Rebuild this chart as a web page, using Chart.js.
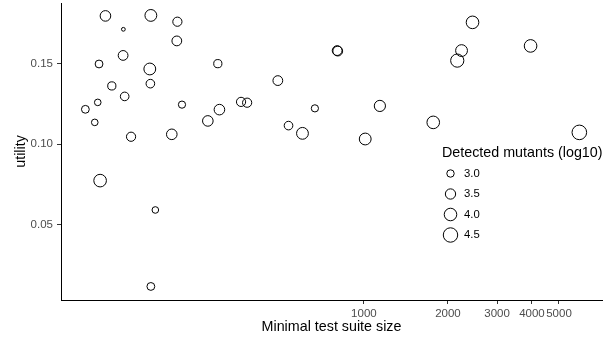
<!DOCTYPE html>
<html>
<head>
<meta charset="utf-8">
<script src="https://cdn.jsdelivr.net/npm/chart.js@4/dist/chart.umd.min.js"></script>
<style>
  html, body { margin: 0; padding: 0; background: #fff; }
  #wrap { width: 613px; height: 339px; position: relative; }
</style>
</head>
<body>
<div id="wrap"><canvas id="c"></canvas></div>
<script>
// bubble scatter: minimal test suite size (log x) vs utility, circle area ~ detected mutants (log10)

var suiteSize = [118.6, 137.5, 172.5, 214.7, 213.7, 137.2, 112.5, 171, 299.7, 125,
                 171.8, 491.7, 139, 100.5, 111.3, 223, 363, 381.7, 303.7, 276,
                 108.6, 537, 146.5, 205, 602.5, 113.5, 179, 172.5, 802, 806,
                 2450, 2238, 2160, 3955, 667.5, 1141, 1772, 1011, 5913];
var utility = [0.1796, 0.1713, 0.1799, 0.1760, 0.1641, 0.1551, 0.1498, 0.1467, 0.1500, 0.1362,
               0.1376, 0.1395, 0.1297, 0.1217, 0.1260, 0.1246, 0.1263, 0.1258, 0.1215, 0.1145,
               0.1136, 0.1116, 0.1047, 0.1062, 0.1068, 0.0775, 0.0593, 0.0119, 0.1581, 0.1578,
               0.1756, 0.1581, 0.1519, 0.1610, 0.1223, 0.1238, 0.1136, 0.1033, 0.1074];
var mutantsLog = [3.56, 2.60, 3.83, 3.29, 3.40, 3.40, 3.06, 3.83, 3.12, 3.12,
                  3.19, 3.40, 3.19, 3.06, 2.89, 2.97, 3.29, 3.29, 3.56, 3.56,
                  2.89, 3.19, 3.29, 3.56, 3.83, 4.02, 2.89, 3.06, 3.40, 3.40,
                  4.02, 3.83, 4.17, 4.02, 2.97, 3.69, 4.02, 3.83, 4.55];

var xTicks = [1000, 2000, 3000, 4000, 5000];
var yTicks = [0.05, 0.10, 0.15];
var legendValues = [3.0, 3.5, 4.0, 4.5];
var legendTitle = 'Detected mutants (log10)';

var FONT = "'Liberation Sans', Arial, sans-serif";
var TICK_COLOR = '#4d4d4d';

// area proportional to the log10 mutant count
function radiusFor(v) {
  return Math.sqrt(Math.max(25.5 * (v - 2.46), 1));
}

var points = suiteSize.map(function (x, i) {
  return { x: x, y: utility[i], r: radiusFor(mutantsLog[i]) };
});

// legend drawn inside the plot, like the ggplot one
var sizeLegend = {
  id: 'sizeLegend',
  afterDraw: function (chart) {
    var ctx = chart.ctx;
    ctx.save();
    ctx.fillStyle = '#000';
    ctx.font = '14.3px ' + FONT;
    ctx.textAlign = 'left';
    ctx.textBaseline = 'middle';
    ctx.fillText(legendTitle, 442, 153);
    ctx.font = '11.3px ' + FONT;
    ctx.strokeStyle = '#000';
    ctx.lineWidth = 1;
    legendValues.forEach(function (v, i) {
      var cy = 173.5 + i * 20.5;
      ctx.beginPath();
      ctx.arc(450.5, cy, radiusFor(v), 0, Math.PI * 2);
      ctx.stroke();
      ctx.fillStyle = '#000';
      ctx.fillText(v.toFixed(1), 464, cy);
    });
    ctx.restore();
  }
};

// no extra room for half tick labels, chart area is set by the layout padding
function noLabelPadding(s) {
  s.paddingTop = 0;
  s.paddingBottom = 0;
  s.paddingLeft = 0;
  s.paddingRight = 0;
}

new Chart(document.getElementById('c'), {
  type: 'bubble',
  data: {
    datasets: [{
      data: points,
      backgroundColor: 'rgba(0,0,0,0)',
      borderColor: '#000',
      borderWidth: 1,
      hoverBorderWidth: 1,
      clip: false
    }]
  },
  options: {
    animation: false,
    responsive: true,
    maintainAspectRatio: false,
    events: [],
    layout: { autoPadding: false, padding: { top: 3, right: 11, left: 0, bottom: 0 } },
    scales: {
      x: {
        type: 'logarithmic',
        min: 82.2,
        max: 7129,
        afterBuildTicks: function (s) {
          s.ticks = xTicks.map(function (v) { return { value: v }; });
        },
        afterFit: function (s) { s.height = 39; noLabelPadding(s); },
        ticks: {
          color: TICK_COLOR,
          font: { family: FONT, size: 11.5 },
          padding: 3,
          maxRotation: 0,
          autoSkip: false,
          callback: function (v) { return String(v); }
        },
        grid: { display: true, drawOnChartArea: false, drawTicks: true, tickLength: 4, tickColor: '#333', tickWidth: 1 },
        border: { display: true, color: '#000', width: 1 },
        title: {
          display: true,
          text: 'Minimal test suite size',
          color: '#000',
          font: { family: FONT, size: 14.3 },
          padding: { top: 0, bottom: 3.7 }
        }
      },
      y: {
        min: 0.0035,
        max: 0.1876,
        afterBuildTicks: function (s) {
          s.ticks = yTicks.map(function (v) { return { value: v }; });
        },
        afterFit: function (s) { s.width = 61; noLabelPadding(s); },
        ticks: {
          color: TICK_COLOR,
          font: { family: FONT, size: 11.5 },
          padding: 4,
          callback: function (v) { return v.toFixed(2); }
        },
        grid: { display: true, drawOnChartArea: false, drawTicks: true, tickLength: 4, tickColor: '#333', tickWidth: 1 },
        border: { display: true, color: '#000', width: 1 },
        title: {
          display: true,
          text: 'utility',
          color: '#000',
          font: { family: FONT, size: 14.3 },
          padding: { top: 12, bottom: 0 }
        }
      }
    },
    plugins: {
      legend: { display: false },
      tooltip: { enabled: false }
    }
  },
  plugins: [sizeLegend]
});
</script>
</body>
</html>
